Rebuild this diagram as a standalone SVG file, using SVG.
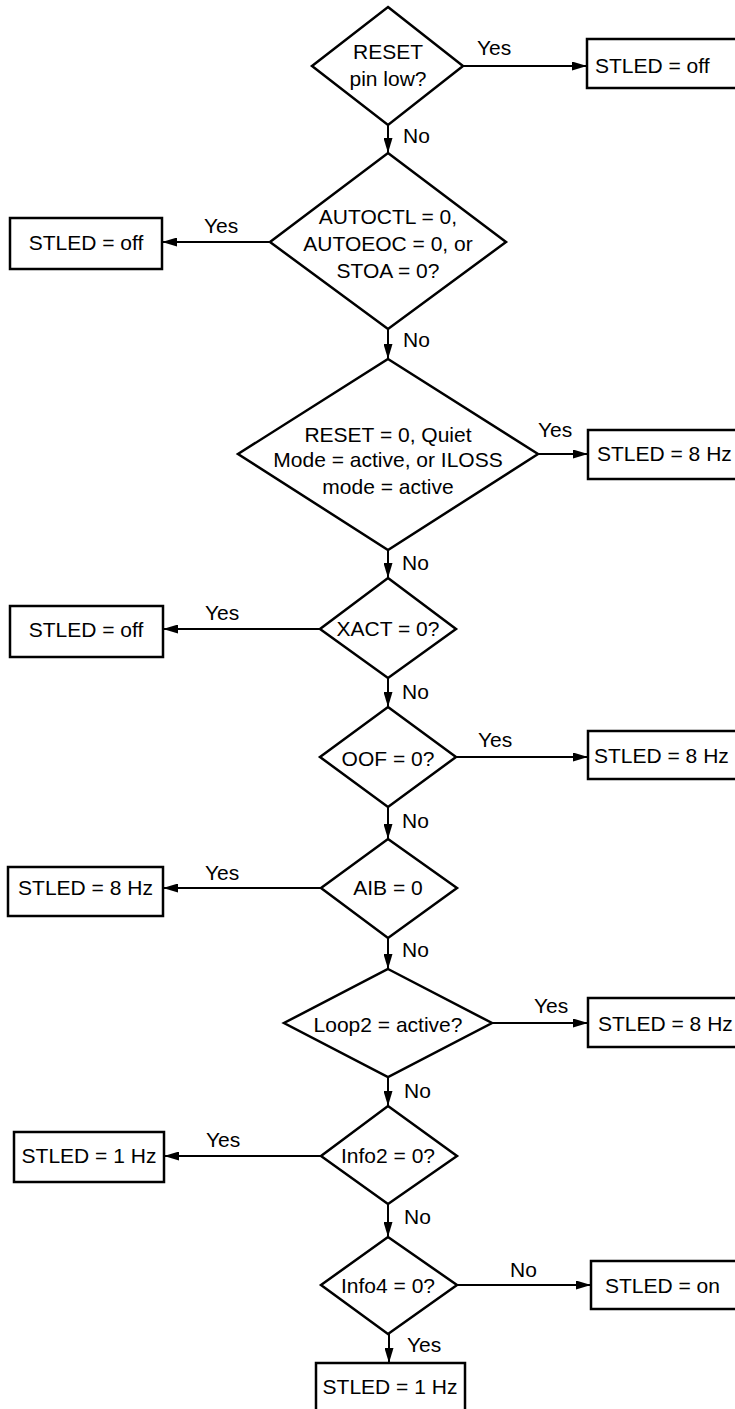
<svg xmlns="http://www.w3.org/2000/svg" width="735" height="1409" viewBox="0 0 735 1409">
<style>
.shape{fill:#fff;stroke:#000;stroke-width:2.5;stroke-linejoin:miter}
.line{fill:none;stroke:#000;stroke-width:2}
text{font-family:"Liberation Sans",Arial,Helvetica,sans-serif;font-size:21px;fill:#000}
.c{text-anchor:middle}
</style>
<defs>
<marker id="arr" markerUnits="userSpaceOnUse" markerWidth="16" markerHeight="9" refX="15" refY="4.5" orient="auto">
<path d="M0,0 L15,4.5 L0,9 z" fill="#000"/>
</marker>
</defs>
<rect width="735" height="1409" fill="#fff"/>
<g id="connectors">
<line class="line" x1="463" y1="66" x2="587" y2="66" marker-end="url(#arr)"/>
<line class="line" x1="388" y1="125" x2="388" y2="153" marker-end="url(#arr)"/>
<line class="line" x1="270" y1="242" x2="162" y2="242" marker-end="url(#arr)"/>
<line class="line" x1="388" y1="329" x2="388" y2="359" marker-end="url(#arr)"/>
<line class="line" x1="538" y1="454" x2="588" y2="454" marker-end="url(#arr)"/>
<line class="line" x1="388" y1="550" x2="388" y2="578" marker-end="url(#arr)"/>
<line class="line" x1="320" y1="629" x2="163" y2="629" marker-end="url(#arr)"/>
<line class="line" x1="388" y1="678" x2="388" y2="707" marker-end="url(#arr)"/>
<line class="line" x1="456" y1="757" x2="588" y2="757" marker-end="url(#arr)"/>
<line class="line" x1="388" y1="807" x2="388" y2="839" marker-end="url(#arr)"/>
<line class="line" x1="321" y1="888" x2="163" y2="888" marker-end="url(#arr)"/>
<line class="line" x1="388" y1="938" x2="388" y2="969" marker-end="url(#arr)"/>
<line class="line" x1="492" y1="1023" x2="588" y2="1023" marker-end="url(#arr)"/>
<line class="line" x1="388" y1="1077" x2="388" y2="1106" marker-end="url(#arr)"/>
<line class="line" x1="321" y1="1156" x2="164" y2="1156" marker-end="url(#arr)"/>
<line class="line" x1="388" y1="1204" x2="388" y2="1237" marker-end="url(#arr)"/>
<line class="line" x1="457" y1="1285" x2="591" y2="1285" marker-end="url(#arr)"/>
<line class="line" x1="389" y1="1334" x2="389" y2="1363" marker-end="url(#arr)"/>
<text x="477" y="55">Yes</text>
<text x="403" y="143">No</text>
<text x="204" y="233">Yes</text>
<text x="403" y="347">No</text>
<text x="538" y="437">Yes</text>
<text x="402" y="570">No</text>
<text x="205" y="620">Yes</text>
<text x="402" y="699">No</text>
<text x="478" y="747">Yes</text>
<text x="402" y="828">No</text>
<text x="205" y="880">Yes</text>
<text x="402" y="957">No</text>
<text x="534" y="1013">Yes</text>
<text x="404" y="1098">No</text>
<text x="206" y="1147">Yes</text>
<text x="404" y="1224">No</text>
<text x="510" y="1277">No</text>
<text x="407" y="1352">Yes</text>
</g>
<g id="d1"><polygon class="shape" points="388,7 463,66 388,125 312,66"/><text class="c" x="388" y="59">RESET</text><text class="c" x="388" y="86">pin low?</text></g>
<g id="b1"><rect class="shape" x="587" y="39" width="160" height="49"/><text x="595" y="73">STLED = off</text></g>
<g id="d2"><polygon class="shape" points="388,153 506,242 388,329 270,242"/><text class="c" x="388" y="224">AUTOCTL = 0,</text><text class="c" x="388" y="251">AUTOEOC = 0, or</text><text class="c" x="388" y="278">STOA = 0?</text></g>
<g id="b2"><rect class="shape" x="10" y="218" width="152" height="51"/><text class="c" x="86" y="250">STLED = off</text></g>
<g id="d3"><polygon class="shape" points="388,359 538,454 388,550 238,454"/><text class="c" x="388" y="442">RESET = 0, Quiet</text><text class="c" x="388" y="467">Mode = active, or ILOSS</text><text class="c" x="388" y="494">mode = active</text></g>
<g id="b3"><rect class="shape" x="588" y="430" width="160" height="49"/><text x="597" y="461">STLED = 8 Hz</text></g>
<g id="d4"><polygon class="shape" points="388,578 456,629 388,678 320,629"/><text class="c" x="388" y="636">XACT = 0?</text></g>
<g id="b4"><rect class="shape" x="10" y="606" width="153" height="51"/><text class="c" x="86" y="637">STLED = off</text></g>
<g id="d5"><polygon class="shape" points="388,707 456,757 388,807 320,757"/><text class="c" x="388" y="766">OOF = 0?</text></g>
<g id="b5"><rect class="shape" x="588" y="731" width="160" height="48"/><text x="594" y="763">STLED = 8 Hz</text></g>
<g id="d6"><polygon class="shape" points="388,839 457,888 388,938 321,888"/><text class="c" x="388" y="895">AIB = 0</text></g>
<g id="b6"><rect class="shape" x="8" y="867" width="155" height="49"/><text class="c" x="85.5" y="895">STLED = 8 Hz</text></g>
<g id="d7"><polygon class="shape" points="388,969 492,1023 388,1077 284,1023"/><text class="c" x="388" y="1032">Loop2 = active?</text></g>
<g id="b7"><rect class="shape" x="588" y="998" width="160" height="49"/><text x="598" y="1031">STLED = 8 Hz</text></g>
<g id="d8"><polygon class="shape" points="388,1106 457,1156 388,1204 321,1156"/><text class="c" x="388" y="1163">Info2 = 0?</text></g>
<g id="b8"><rect class="shape" x="14" y="1132" width="150" height="50"/><text class="c" x="89" y="1163">STLED = 1 Hz</text></g>
<g id="d9"><polygon class="shape" points="388,1237 457,1285 388,1334 321,1285"/><text class="c" x="388" y="1293">Info4 = 0?</text></g>
<g id="b9"><rect class="shape" x="591" y="1261" width="160" height="48"/><text x="605" y="1293">STLED = on</text></g>
<g id="b10"><rect class="shape" x="316" y="1363" width="149" height="60"/><text class="c" x="390" y="1394">STLED = 1 Hz</text></g>
</svg>
